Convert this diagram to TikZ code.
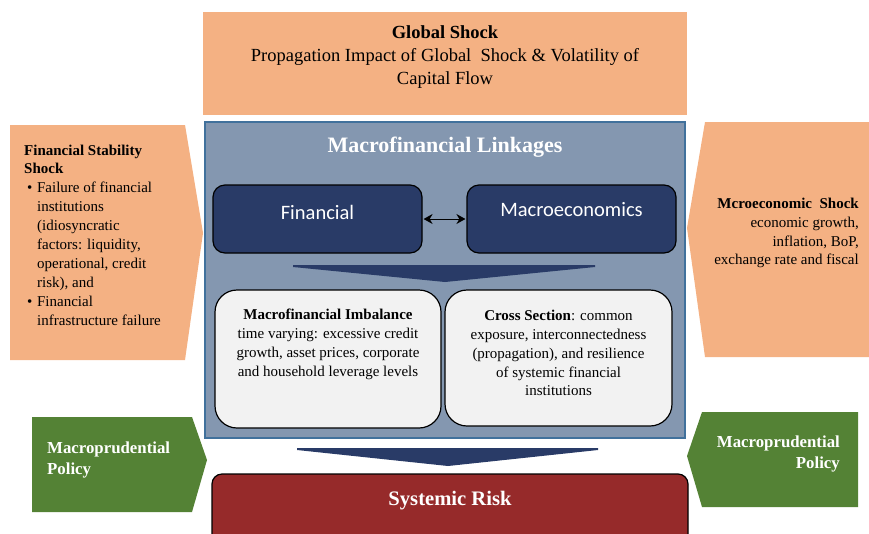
\documentclass[tikz,border=0pt]{standalone}
\usepackage{fontspec}
\setmainfont{Liberation Serif}
\newfontfamily\calib{Carlito}
\usetikzlibrary{arrows.meta}
\definecolor{peach}{RGB}{244,177,131}
\definecolor{panel}{RGB}{132,151,176}
\definecolor{panelborder}{RGB}{65,113,156}
\definecolor{navy}{RGB}{41,59,103}
\definecolor{lgray}{RGB}{242,242,242}
\definecolor{dred}{RGB}{150,42,42}
\definecolor{mgreen}{RGB}{84,130,53}
\begin{document}
\begin{tikzpicture}[x=1pt,y=-1pt,
  navybox/.style={draw=black, fill=navy, rounded corners=12pt, line width=1.2pt},
  graybox/.style={draw=black, fill=lgray, rounded corners=22pt, line width=1.2pt},
  chev/.style={fill=navy},
  bodytxt/.style={font=\fontsize{15}{18.9}\selectfont, inner sep=0pt},
  whitebold/.style={text=white, font=\bfseries, inner sep=0pt},
]
\path[use as bounding box] (0,0) rectangle (869,533);
\clip (0,0) rectangle (869,533);

% Global shock
\node[fill=peach, minimum width=484, minimum height=103, inner sep=0] (global) at (445,63.5) {};
\node[align=center, inner sep=0, font=\fontsize{18.5}{23}\selectfont] (globaltxt) at (445,57)
  {\textbf{Global Shock}\\Propagation Impact of Global\ \ Shock \& Volatility of\\Capital Flow};

% side orange arrows
\path[fill=peach] (10,125) -- (185,125) -- (203,233) -- (185,360) -- (10,360) -- cycle;
\path[fill=peach] (705,122) -- (869,122) -- (869,357) -- (705,357) -- (687,228) -- cycle;

\node[bodytxt, anchor=west, align=left] (fsstxt) at (24,235)
  {\textbf{Financial Stability}\\\textbf{Shock}\\
   \hspace*{3pt}\textbullet\hspace*{4.7pt}Failure of financial\\
   \hspace*{13pt}institutions\\
   \hspace*{13pt}(idiosyncratic\\
   \hspace*{13pt}factors: liquidity,\\
   \hspace*{13pt}operational, credit\\
   \hspace*{13pt}risk), and\\
   \hspace*{3pt}\textbullet\hspace*{4.7pt}Financial\\
   \hspace*{13pt}infrastructure failure};

\node[bodytxt, anchor=east, align=right] (mstxt) at (859,233)
  {\textbf{Mcroeconomic\ \ Shock}\\economic growth,\\inflation, BoP,\\exchange rate and fiscal};

% panel
\node[fill=panel, draw=panelborder, line width=1.5pt, minimum width=480, minimum height=316, inner sep=0] (panel) at (445,280) {};
\node[whitebold, font=\bfseries\fontsize{22}{26}\selectfont] (paneltitle) at (445,147) {Macrofinancial Linkages};

\node[navybox, minimum width=209, minimum height=68, inner sep=0] (fin) at (317.5,219) {};
\node[navybox, minimum width=209, minimum height=68, inner sep=0] (mac) at (571.5,219) {};
\node[text=white, inner sep=0, font=\calib\fontsize{20.5}{24}\selectfont] (fintxt) at (317.5,212) {Financial};
\node[text=white, inner sep=0, font=\calib\fontsize{20.5}{24}\selectfont] (mactxt) at (571.5,210) {Macroeconomics};
\draw[{Stealth[length=9pt,width=10pt]}-{Stealth[length=9pt,width=10pt]}, line width=1pt, shorten <=1pt, shorten >=1pt] (fin.east) -- (mac.west);

\path[chev] (293,265) -- (595,265) -- (595,267) -- (445,282) -- (293,267) -- cycle;

\node[graybox, minimum width=226, minimum height=138, inner sep=0] (imb) at (328,359) {};
\node[graybox, minimum width=227, minimum height=136, inner sep=0] (cross) at (558.5,358) {};
\node[bodytxt, align=center] (imbtxt) at (328,344)
  {\textbf{Macrofinancial Imbalance}\\time varying: excessive credit\\growth, asset prices, corporate\\and household leverage levels};
\node[bodytxt, align=center] (crosstxt) at (558.5,353)
  {\textbf{Cross Section}: common\\exposure, interconnectedness\\(propagation), and resilience\\of systemic financial\\institutions};

\path[chev] (297,448) -- (598,448) -- (598,450) -- (448,466) -- (297,450) -- cycle;

% systemic risk
\node[draw=black, fill=dred, line width=1.2pt, rounded corners=10pt, minimum width=476, minimum height=80, inner sep=0] (risk) at (450,514) {};
\node[whitebold, font=\bfseries\fontsize{20.6}{24}\selectfont] (risktxt) at (450,501) {Systemic Risk};

% green arrows
\path[fill=mgreen] (32,417) -- (192,417) -- (207,460) -- (192,512) -- (32,512) -- cycle;
\path[fill=mgreen] (702,412) -- (858,412) -- (858,507) -- (702,507) -- (687,456) -- cycle;
\node[whitebold, anchor=west, align=left, font=\bfseries\fontsize{16.8}{21}\selectfont] (mpl) at (47,460) {Macroprudential\\Policy};
\node[whitebold, anchor=east, align=right, font=\bfseries\fontsize{16.8}{21}\selectfont] (mpr) at (840,454) {Macroprudential\\Policy};
\end{tikzpicture}
\end{document}
